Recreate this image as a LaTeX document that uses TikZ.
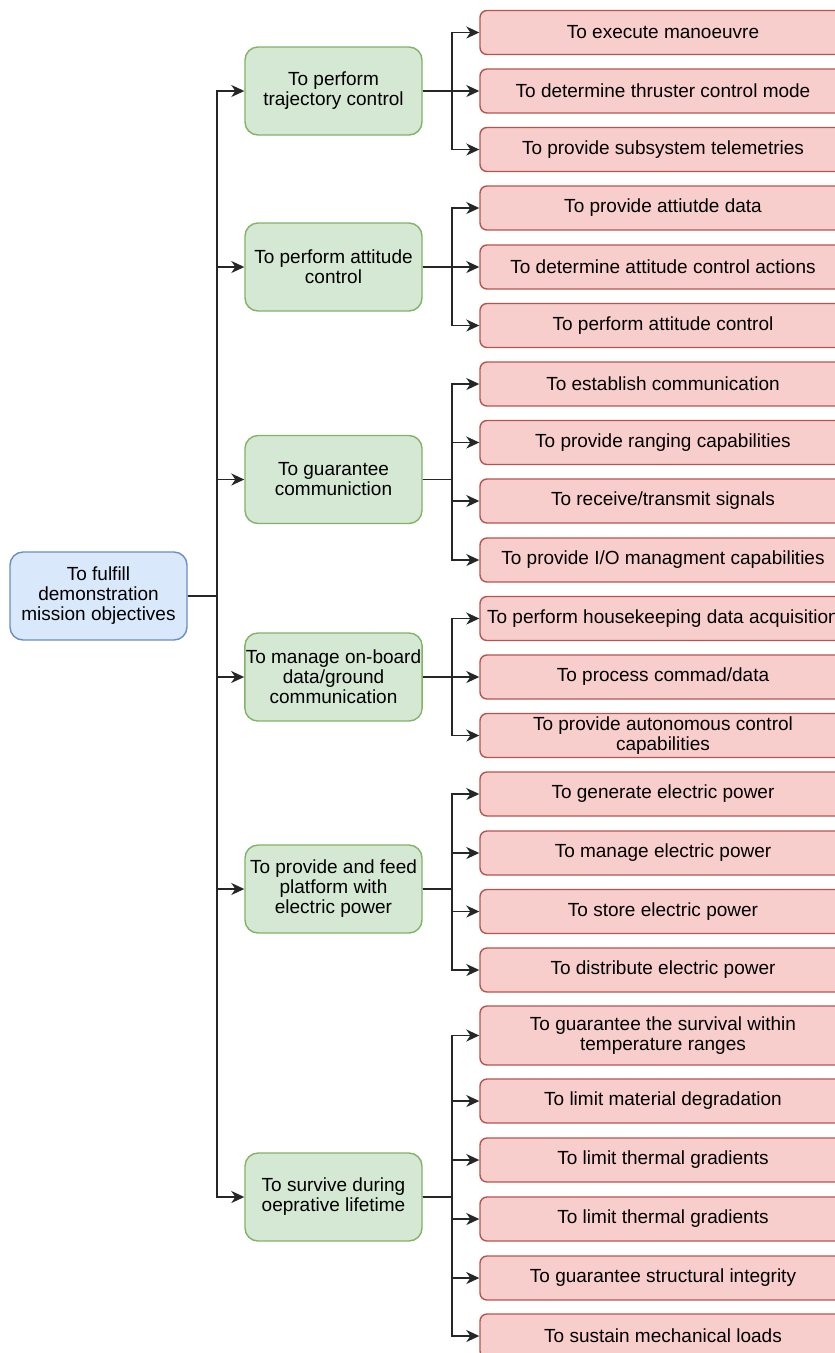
\documentclass[tikz,border=0pt]{standalone}
\usepackage{fontspec}
\setmainfont{Liberation Sans}
\usetikzlibrary{arrows.meta}

\definecolor{rootfill}{HTML}{DAE8FC}
\definecolor{rootline}{HTML}{6C8EBF}
\definecolor{funcfill}{HTML}{D5E8D4}
\definecolor{funcline}{HTML}{82B366}
\definecolor{subfill}{HTML}{F8CECC}
\definecolor{subline}{HTML}{B85450}

\tikzset{
  box/.style={draw, line width=1.4pt, align=center, inner sep=1pt,
    font=\fontsize{19}{20}\selectfont, text=black},
  rootbox/.style={box, fill=rootfill, draw=rootline, rounded corners=13pt,
    minimum width=177pt, minimum height=88pt},
  funcbox/.style={box, fill=funcfill, draw=funcline, rounded corners=13pt,
    minimum width=177pt, minimum height=88pt},
  subbox/.style={box, fill=subfill, draw=subline, rounded corners=7pt,
    minimum width=366pt},
  arr/.style={line width=1.6pt, black!85, -{Stealth[length=13pt,width=12pt,inset=4pt]}}
}

\begin{document}
\begin{tikzpicture}[x=1pt,y=-1pt]
  \useasboundingbox (0,0) rectangle (835,1353);
  \clip (0,0) rectangle (835,1353);
  \fill[white] (0,0) rectangle (835,1353);

  % top function
  \node[rootbox] (root) at (98.5,596) {To fulfill\\demonstration\\mission objectives};

  % sub functions
  \foreach \n/\yy/\txt in {1/91/{To perform\\trajectory control},
      2/267/{To perform attitude\\control},
      3/479.5/{To guarantee\\communiction},
      4/677/{To manage on-board\\data/ground\\communication},
      5/889/{To provide and feed\\platform with\\electric power},
      6/1197/{To survive during\\oeprative lifetime}} {
    \node[funcbox] (g\n) at (333.5,\yy) {\txt};
    \draw[arr] (root.east) -- ++(29,0) |- (g\n.west);
  }

  % leaf functions
  \foreach \n/\g/\yy/\hh/\txt in {1/1/32.5/44/{To execute manoeuvre},
      2/1/91/44/{To determine thruster control mode},
      3/1/149.5/44/{To provide subsystem telemetries},
      4/2/208/44/{To provide attiutde data},
      5/2/267/44/{To determine attitude control actions},
      6/2/325.5/44/{To perform attitude control},
      7/3/384/44/{To establish communication},
      8/3/442.5/44/{To provide ranging capabilities},
      9/3/501/44/{To receive/transmit signals},
      10/3/560/44/{To provide I/O managment capabilities},
      11/4/618.5/44/{To perform housekeeping data acquisition},
      12/4/677/44/{To process commad/data},
      13/4/735.5/44/{To provide autonomous control\\capabilities},
      14/5/794/44/{To generate electric power},
      15/5/853/44/{To manage electric power},
      16/5/911.5/44/{To store electric power},
      17/5/970/44/{To distribute electric power},
      18/6/1035.5/59/{To guarantee the survival within\\temperature ranges},
      19/6/1101/44/{To limit material degradation},
      20/6/1160/44/{To limit thermal gradients},
      21/6/1219/44/{To limit thermal gradients},
      22/6/1278/44/{To guarantee structural integrity},
      23/6/1336/44/{To sustain mechanical loads}} {
    \node[subbox, minimum height=\hh pt] (r\n) at (663,\yy) {\txt};
    \draw[arr] (g\g.east) -- ++(29,0) |- (r\n.west);
  }
\end{tikzpicture}
\end{document}
